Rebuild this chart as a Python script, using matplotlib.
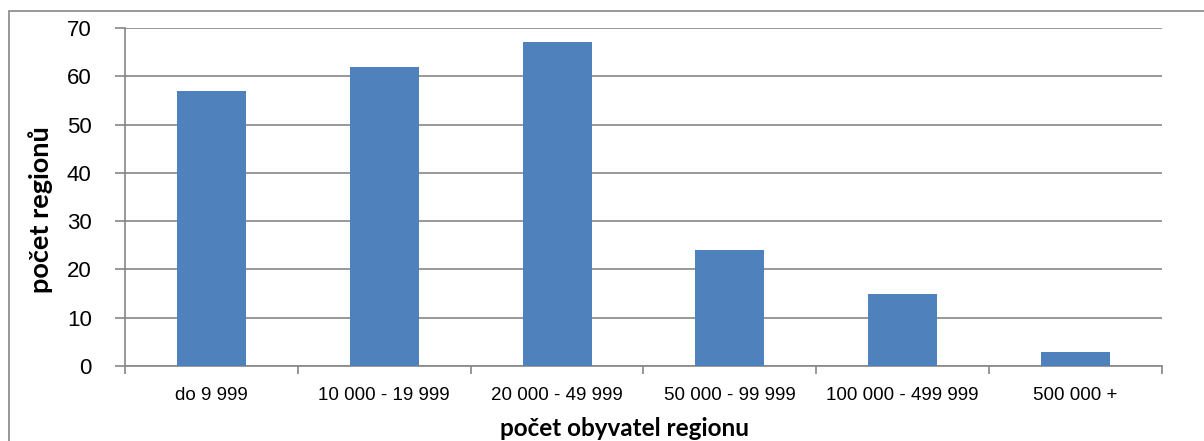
import numpy as np
import matplotlib.pyplot as plt
from matplotlib.patches import Rectangle

# data
categories = ['do 9 999', '10 000 - 19 999', '20 000 - 49 999',
              '50 000 - 99 999', '100 000 - 499 999', '500 000 +']
counts = [57, 62, 67, 24, 15, 3]

grid_col = '#868686'
bar_col = '#4F81BD'

fig = plt.figure(figsize=(12.04, 4.41), dpi=100)
ax = fig.add_axes([125 / 1204, 1 - 366 / 441, (1162 - 125) / 1204, (366 - 28) / 441])

x = np.arange(len(categories))
ax.bar(x, counts, width=0.4, color=bar_col, zorder=3)

ax.set_xlim(-0.5, len(categories) - 0.5)
ax.set_ylim(0, 70)
ax.set_yticks(range(0, 71, 10))
ax.yaxis.grid(True, color=grid_col, linewidth=1.2, zorder=0)

# category labels at centres, tick marks at boundaries
ax.set_xticks(x)
ax.set_xticklabels(categories, fontsize=13.5, family='Liberation Sans')
ax.set_xticks(np.arange(-0.5, len(categories)), minor=True)
ax.tick_params(axis='x', which='major', length=0, pad=15)
ax.tick_params(axis='x', which='minor', length=6, width=1.2, color=grid_col, direction='out')
ax.tick_params(axis='y', length=7, width=1.2, color=grid_col, direction='out', pad=17)
for lab in ax.get_yticklabels():
    lab.set_fontsize(16)
    lab.set_family('Liberation Sans')

for side in ['top', 'right']:
    ax.spines[side].set_visible(False)
for side in ['left', 'bottom']:
    ax.spines[side].set_color(grid_col)
    ax.spines[side].set_linewidth(1.2)

ax.set_xlabel('počet obyvatel regionu', fontsize=17.5, fontweight='bold', family='Lato')
ax.xaxis.set_label_coords(0.4817, -0.152)
ax.set_ylabel('počet regionů', fontsize=19.5, fontweight='bold', family='Lato')
ax.yaxis.set_label_coords(-0.069, 0.462)

# chart area border (cropped at right and bottom)
fig.patches.append(Rectangle((9 / 1204, -0.1), 1.2, 1 - 11 / 441 + 0.1,
                             transform=fig.transFigure, fill=False,
                             edgecolor=grid_col, linewidth=1.2))

fig.savefig('out.png', dpi=100)
